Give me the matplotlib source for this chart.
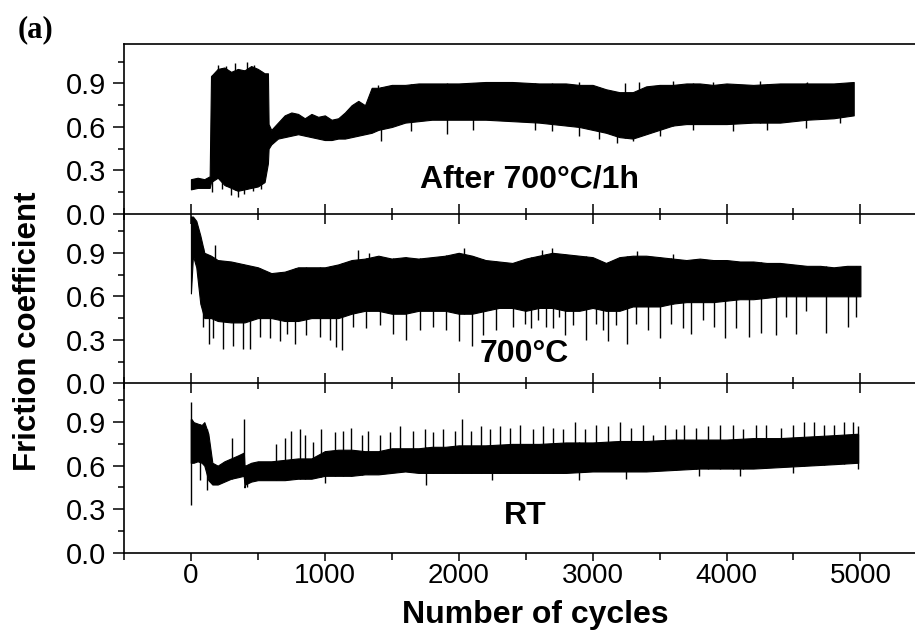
import numpy as np
import matplotlib
matplotlib.use("Agg")
import matplotlib.pyplot as plt
from matplotlib.ticker import MultipleLocator

plt.rcParams['font.family'] = ['Liberation Sans', 'DejaVu Sans']

# ---------------- data ----------------
# Panel 1: After 700°C/1h  (core band of the trace)
a_x = [0, 50, 100, 140, 150, 200, 250, 300, 350, 400, 450, 500, 550, 575, 580, 600, 650, 700, 750,
       800, 850, 900, 950, 1000, 1050, 1100, 1150, 1200, 1250, 1300, 1350, 1400, 1500, 1600, 1700,
       1800, 1900, 2000, 2200, 2400, 2600, 2800, 2900, 3000, 3100, 3200, 3300, 3400, 3500, 3600,
       3700, 3800, 3900, 4000, 4200, 4400, 4600, 4800, 4950]
a_hi = [0.24, 0.25, 0.24, 0.26, 0.95, 1.00, 1.01, 0.98, 1.00, 0.99, 1.02, 1.00, 0.97, 0.97, 0.62,
        0.58, 0.63, 0.68, 0.70, 0.69, 0.66, 0.69, 0.67, 0.68, 0.65, 0.66, 0.70, 0.75, 0.78, 0.75,
        0.87, 0.87, 0.89, 0.89, 0.90, 0.90, 0.90, 0.90, 0.91, 0.91, 0.90, 0.90, 0.89, 0.89, 0.86,
        0.84, 0.84, 0.88, 0.89, 0.89, 0.90, 0.90, 0.89, 0.90, 0.89, 0.90, 0.90, 0.90, 0.91]
a_lo = [0.17, 0.18, 0.18, 0.18, 0.22, 0.25, 0.20, 0.18, 0.16, 0.17, 0.18, 0.19, 0.22, 0.35, 0.45,
        0.48, 0.52, 0.53, 0.54, 0.55, 0.54, 0.53, 0.52, 0.51, 0.51, 0.52, 0.52, 0.53, 0.54, 0.55,
        0.56, 0.58, 0.60, 0.63, 0.64, 0.65, 0.65, 0.65, 0.65, 0.64, 0.63, 0.61, 0.60, 0.58, 0.56,
        0.53, 0.52, 0.55, 0.58, 0.61, 0.62, 0.62, 0.62, 0.62, 0.63, 0.63, 0.65, 0.66, 0.68]
a_dn_x = [160, 230, 300, 350, 400, 460, 520, 1420, 1640, 1910, 2110, 2567, 2700, 2900, 3050, 3180,
          3300, 3500, 3750, 4047, 4300, 4594, 4850]
a_dn_y = [0.15, 0.17, 0.13, 0.12, 0.14, 0.16, 0.17, 0.50, 0.57, 0.55, 0.58, 0.58, 0.57, 0.54, 0.52,
          0.49, 0.50, 0.54, 0.58, 0.57, 0.58, 0.59, 0.63]
a_up_x = [200, 260, 330, 420, 470, 1400, 2900, 3239, 3350, 3600, 3900, 4250, 4600]
a_up_y = [1.03, 1.02, 1.04, 1.05, 1.03, 0.89, 0.91, 0.90, 0.91, 0.92, 0.91, 0.92, 0.91]

# Panel 2: 700°C
b_x = [0, 15, 40, 70, 100, 150, 200, 300, 400, 500, 600, 700, 800, 900, 1000, 1100, 1200, 1300,
       1400, 1500, 1600, 1700, 1800, 1900, 2000, 2100, 2200, 2300, 2400, 2500, 2600, 2700, 2800,
       2900, 3000, 3100, 3200, 3300, 3400, 3500, 3600, 3700, 3800, 3900, 4000, 4100, 4200, 4300,
       4400, 4500, 4600, 4700, 4800, 4900, 5000]
b_hi = [1.15, 1.15, 1.12, 1.02, 0.90, 0.88, 0.85, 0.84, 0.82, 0.80, 0.76, 0.77, 0.80, 0.80, 0.80,
        0.82, 0.85, 0.86, 0.88, 0.86, 0.87, 0.86, 0.87, 0.88, 0.90, 0.88, 0.85, 0.84, 0.83, 0.86,
        0.88, 0.90, 0.89, 0.88, 0.87, 0.83, 0.87, 0.88, 0.88, 0.87, 0.86, 0.85, 0.86, 0.85, 0.85,
        0.84, 0.84, 0.83, 0.83, 0.82, 0.81, 0.81, 0.80, 0.81, 0.81]
b_lo = [0.62, 0.88, 0.80, 0.55, 0.45, 0.45, 0.43, 0.42, 0.42, 0.45, 0.45, 0.43, 0.43, 0.45, 0.45,
        0.45, 0.48, 0.50, 0.50, 0.48, 0.48, 0.50, 0.50, 0.50, 0.48, 0.48, 0.50, 0.52, 0.52, 0.50,
        0.52, 0.52, 0.50, 0.50, 0.52, 0.50, 0.50, 0.53, 0.53, 0.53, 0.55, 0.56, 0.56, 0.56, 0.57,
        0.58, 0.58, 0.59, 0.60, 0.60, 0.60, 0.60, 0.60, 0.60, 0.60]
b_dn_x = [92, 137, 167, 241, 316, 391, 440, 515, 590, 664, 714, 776, 863, 963, 1037, 1087, 1129,
          1211, 1311, 1410, 1510, 1609, 1709, 1808, 1908, 2003, 2100, 2182, 2281, 2406, 2492, 2542,
          2592, 2649, 2704, 2749, 2791, 2853, 2953, 3027, 3077, 3114, 3176, 3256, 3326, 3413, 3500,
          3587, 3674, 3736, 3823, 3910, 3985, 4072, 4166, 4259, 4370, 4445, 4520, 4594, 4744, 4905,
          4967]
b_dn_y = [0.39, 0.27, 0.31, 0.24, 0.26, 0.24, 0.24, 0.32, 0.31, 0.29, 0.34, 0.27, 0.33, 0.32, 0.30,
          0.25, 0.23, 0.39, 0.38, 0.40, 0.34, 0.30, 0.37, 0.39, 0.37, 0.29, 0.26, 0.33, 0.37, 0.39,
          0.41, 0.38, 0.44, 0.39, 0.38, 0.46, 0.33, 0.40, 0.30, 0.41, 0.37, 0.29, 0.40, 0.27, 0.41,
          0.37, 0.31, 0.41, 0.38, 0.34, 0.44, 0.39, 0.31, 0.38, 0.32, 0.35, 0.33, 0.46, 0.34, 0.50,
          0.35, 0.39, 0.46]
b_up_x = [179, 1250, 1330, 2040, 2620, 2700, 3330, 3600]
b_up_y = [0.955, 0.92, 0.90, 0.93, 0.92, 0.93, 0.91, 0.89]

# Panel 3: RT
c_x = [0, 5, 20, 50, 80, 100, 130, 160, 200, 250, 300, 350, 395, 400, 405, 450, 500, 600, 700, 800,
       900, 1000, 1100, 1200, 1300, 1400, 1500, 1600, 1700, 1800, 1900, 2000, 2200, 2400, 2600,
       2800, 3000, 3200, 3400, 3600, 3800, 4000, 4200, 4400, 4600, 4800, 4980]
c_hi = [0.92, 0.92, 0.90, 0.89, 0.88, 0.90, 0.82, 0.62, 0.60, 0.63, 0.65, 0.67, 0.69, 0.60, 0.60,
        0.62, 0.63, 0.63, 0.64, 0.65, 0.65, 0.70, 0.71, 0.71, 0.70, 0.70, 0.72, 0.72, 0.72, 0.73,
        0.73, 0.74, 0.74, 0.75, 0.75, 0.76, 0.76, 0.77, 0.77, 0.78, 0.78, 0.78, 0.79, 0.79, 0.80,
        0.81, 0.82]
c_lo = [0.62, 0.62, 0.62, 0.63, 0.62, 0.60, 0.50, 0.47, 0.47, 0.49, 0.51, 0.52, 0.53, 0.45, 0.47,
        0.49, 0.50, 0.50, 0.50, 0.51, 0.51, 0.53, 0.53, 0.53, 0.54, 0.54, 0.55, 0.56, 0.55, 0.55,
        0.55, 0.55, 0.55, 0.55, 0.55, 0.55, 0.56, 0.56, 0.56, 0.57, 0.58, 0.58, 0.58, 0.59, 0.60,
        0.61, 0.62]
c_up_x = [0, 304, 396, 639, 702, 751, 813, 851, 913, 975, 1075, 1137, 1199, 1274, 1323, 1410, 1485,
          1560, 1659, 1746, 1808, 1883, 1970, 2027, 2095, 2169, 2231, 2306, 2381, 2455, 2555, 2629,
          2704, 2778, 2865, 2940, 3027, 3114, 3201, 3288, 3375, 3450, 3537, 3624, 3686, 3773, 3860,
          3948, 4047, 4122, 4221, 4296, 4408, 4495, 4582, 4657, 4731, 4806, 4880, 4943, 4980]
c_up_y = [1.04, 0.79, 0.92, 0.75, 0.79, 0.84, 0.85, 0.81, 0.76, 0.85, 0.83, 0.84, 0.86, 0.81, 0.84,
          0.81, 0.83, 0.87, 0.84, 0.85, 0.83, 0.85, 0.84, 0.92, 0.84, 0.87, 0.85, 0.87, 0.86, 0.88,
          0.85, 0.87, 0.86, 0.85, 0.90, 0.85, 0.88, 0.87, 0.90, 0.86, 0.88, 0.81, 0.88, 0.85, 0.88,
          0.86, 0.87, 0.88, 0.88, 0.85, 0.88, 0.88, 0.86, 0.88, 0.90, 0.90, 0.88, 0.88, 0.90, 0.90,
          0.87]
c_dn_x = [0, 67, 117, 420, 1000, 1759, 2250, 2900, 3250, 3798, 4100, 4500, 4980]
c_dn_y = [0.33, 0.50, 0.43, 0.45, 0.48, 0.47, 0.50, 0.50, 0.51, 0.53, 0.53, 0.55, 0.58]

panel_labels = ["After 700°C/1h", "700°C", "RT"]
label_pos = [(2530, 0.18), (2490, 0.145), (2500, 0.20)]
x_ticks = [0, 1000, 2000, 3000, 4000, 5000]
y_ticks = [0.0, 0.3, 0.6, 0.9]

# ---------------- figure ----------------
fig = plt.figure(figsize=(9.15, 6.3), dpi=100)
L, W, H = 0.1355, 0.878, 0.2694
bottoms = [0.6603, 0.3915, 0.1227]

panels = [
    (a_x, a_hi, a_lo, a_up_x, a_up_y, a_dn_x, a_dn_y),
    (b_x, b_hi, b_lo, b_up_x, b_up_y, b_dn_x, b_dn_y),
    (c_x, c_hi, c_lo, c_up_x, c_up_y, c_dn_x, c_dn_y),
]

for i, (xs, hi, lo, ux, uy, dx, dy) in enumerate(panels):
    ax = fig.add_axes([L, bottoms[i], W, H])
    ax.patch.set_visible(False)
    ax.fill_between(xs, lo, hi, color='black', lw=0.8, edgecolor='black')
    ux = np.array(ux); dx = np.array(dx)
    ax.vlines(ux, np.interp(ux, xs, lo), uy, color='black', lw=1.0)
    ax.vlines(dx, dy, np.interp(dx, xs, hi), color='black', lw=1.0)

    ax.set_xlim(-500, 5500)
    ax.set_ylim(0, 1.17)
    ax.set_yticks(y_ticks)
    ax.set_yticklabels([f"{v:.1f}" for v in y_ticks])
    ax.yaxis.set_minor_locator(MultipleLocator(0.15))
    ax.set_xticks(x_ticks)
    ax.xaxis.set_minor_locator(MultipleLocator(500))
    ax.tick_params(axis='y', which='major', direction='out', length=7.7, width=1.1,
                   labelsize=21, pad=5)
    ax.tick_params(axis='y', which='minor', direction='out', length=4.2, width=1.1)
    ax.tick_params(axis='y', which='both', right=False)
    for sp in ax.spines.values():
        sp.set_linewidth(1.2)
    if i > 0:
        ax.spines['top'].set_visible(False)
    if i < 2:
        ax.tick_params(axis='x', which='major', direction='inout', length=15, width=1.1,
                       labelbottom=False, top=False)
        ax.tick_params(axis='x', which='minor', direction='inout', length=8.6, width=1.1,
                       top=False)
    else:
        ax.tick_params(axis='x', which='major', direction='out', length=6, width=1.1,
                       labelsize=20, pad=1.5, top=False)
        ax.tick_params(axis='x', which='minor', direction='out', length=5, width=1.1, top=False)
    lx, ly = label_pos[i]
    ax.text(lx, ly, panel_labels[i], ha='center', va='baseline', fontsize=23,
            fontweight='bold')

fig.text(535 / 915, 1 - 623 / 630, "Number of cycles", ha='center', va='baseline',
         fontsize=23, fontweight='bold')
fig.text(28 / 915, 1 - 331 / 630, "Friction coefficient", ha='center', va='center',
         rotation=90, fontsize=22.5, fontweight='bold')
fig.text(18 / 915, 1 - 37 / 630, "(a)", ha='left', va='baseline', fontsize=22,
         fontweight='bold', family=['Liberation Serif', 'DejaVu Serif'])

fig.savefig("out.png", dpi=100)
